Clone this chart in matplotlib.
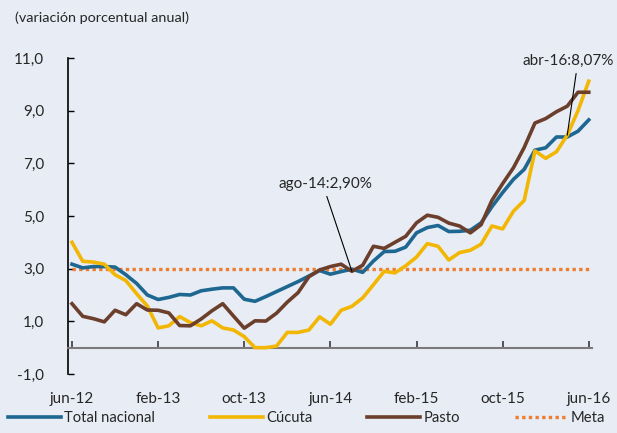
import matplotlib
matplotlib.use("Agg")
import matplotlib.pyplot as plt
from matplotlib.lines import Line2D

plt.rcParams['font.family'] = ['Lato', 'DejaVu Sans']

# ---- data ----
month_abbr = ['jun', 'jul', 'ago', 'sep', 'oct', 'nov', 'dic', 'ene', 'feb', 'mar', 'abr', 'may']
months = [f"{month_abbr[k % 12]}-{12 + (k + 5) // 12}" for k in range(49)]  # jun-12 .. jun-16

total_nacional = [3.17, 3.03, 3.08, 3.08, 3.06, 2.77, 2.44, 2.00, 1.83, 1.91, 2.02, 2.00,
                  2.16, 2.22, 2.27, 2.27, 1.84, 1.76, 1.94, 2.13, 2.32, 2.51, 2.72, 2.93,
                  2.79, 2.89, 2.98, 2.86, 3.29, 3.65, 3.66, 3.82, 4.36, 4.56, 4.64, 4.41,
                  4.42, 4.46, 4.74, 5.35, 5.89, 6.39, 6.77, 7.50, 7.59, 8.00, 8.00, 8.22, 8.65]
cucuta = [4.00, 3.28, 3.25, 3.17, 2.77, 2.55, 2.05, 1.58, 0.75, 0.83, 1.18, 0.95,
          0.83, 1.02, 0.75, 0.67, 0.42, 0.00, 0.00, 0.06, 0.58, 0.58, 0.67, 1.17,
          0.89, 1.42, 1.57, 1.89, 2.39, 2.90, 2.84, 3.11, 3.44, 3.95, 3.85, 3.33,
          3.61, 3.70, 3.93, 4.62, 4.51, 5.18, 5.59, 7.47, 7.19, 7.44, 8.07, 9.00, 10.12]
pasto = [1.67, 1.19, 1.10, 0.98, 1.42, 1.25, 1.67, 1.43, 1.42, 1.32, 0.84, 0.83,
         1.09, 1.40, 1.67, 1.20, 0.74, 1.02, 1.01, 1.31, 1.73, 2.09, 2.69, 2.95,
         3.08, 3.17, 2.90, 3.13, 3.85, 3.77, 4.00, 4.23, 4.74, 5.03, 4.95, 4.73,
         4.62, 4.36, 4.67, 5.59, 6.23, 6.83, 7.60, 8.53, 8.70, 8.96, 9.17, 9.70, 9.70]
meta = [3.0] * 49

series_names = ['Total nacional', 'Cúcuta', 'Pasto', 'Meta']
tick_idx = [0, 8, 16, 24, 32, 40, 48]
tick_labels = [months[i] for i in tick_idx]
yticks = [-1.0, 1.0, 3.0, 5.0, 7.0, 9.0, 11.0]
ann1 = ('ago-14', 'Pasto')
ann2 = ('abr-16', 'Cúcuta')

# ---- style ----
bg = '#e8ecf4'
c_total = '#1d6791'
c_cuc = '#f2b705'
c_pasto = '#6b3f2c'
c_meta = '#ed7d31'
txt = '#262626'

fig = plt.figure(figsize=(6.17, 4.33), dpi=100, facecolor=bg)
ax = fig.add_axes([68/617, 59/433, 524/617, 316/433])
ax.set_facecolor(bg)

x = list(range(len(months)))
lw = 2.6
ax.plot(x, meta, color=c_meta, lw=2.4, linestyle=(0, (1.0, 1.0)), zorder=2)
ax.plot(x, total_nacional, color=c_total, lw=lw, zorder=3)
ax.plot(x, cucuta, color=c_cuc, lw=lw, zorder=3)
ax.plot(x, pasto, color=c_pasto, lw=lw, zorder=4)

ax.set_xlim(-0.37, 48.3)
ax.set_ylim(-1.0, 11.0)

# spines
for s in ['top', 'right']:
    ax.spines[s].set_visible(False)
ax.spines['left'].set_color('black')
ax.spines['left'].set_linewidth(1.2)
ax.spines['bottom'].set_position(('data', 0))
ax.spines['bottom'].set_color('#7a7a7a')
ax.spines['bottom'].set_linewidth(1.5)

ax.set_yticks(yticks)
ax.set_yticklabels([f"{v:.1f}".replace('.', ',') for v in yticks])
ax.tick_params(axis='y', direction='in', length=4, width=1, color='black',
               labelsize=11, labelcolor=txt, pad=17)
ax.set_xticks(tick_idx)
ax.tick_params(axis='x', direction='in', length=5, width=1.2, color='#3a3a3a',
               labelbottom=False)

sec = ax.secondary_xaxis(0)
sec.set_xticks(tick_idx)
sec.set_xticklabels(tick_labels)
sec.spines['bottom'].set_visible(False)
sec.tick_params(axis='x', length=0, labelsize=11, labelcolor=txt, pad=13)

# annotations
i1 = months.index(ann1[0])
ax.annotate(f"{ann1[0]}:{pasto[i1]:.2f}%".replace('.', ','), xy=(i1, pasto[i1]),
            xytext=(23.5, 5.95), textcoords='data', ha='center', va='bottom',
            fontsize=11, color=txt,
            arrowprops=dict(arrowstyle='-', color='black', lw=0.8,
                            shrinkA=2, shrinkB=0, relpos=(0.5, 0)),
            annotation_clip=False, zorder=6)
i2 = months.index(ann2[0])
ax.annotate(f"{ann2[0]}:{cucuta[i2]:.2f}%".replace('.', ','), xy=(i2, cucuta[i2]),
            xytext=(46.05, 10.62), textcoords='data', ha='center', va='bottom',
            fontsize=11, color=txt,
            arrowprops=dict(arrowstyle='-', color='black', lw=0.8,
                            shrinkA=2, shrinkB=0, relpos=(0.6, 0)),
            annotation_clip=False, zorder=6)

fig.text(15/617, 1 - 18/433, '(variación porcentual anual)', ha='left', va='center',
         fontsize=10.4, color=txt)

handles = [Line2D([], [], color=c_total, lw=lw),
           Line2D([], [], color=c_cuc, lw=lw),
           Line2D([], [], color=c_pasto, lw=lw),
           Line2D([], [], color=c_meta, lw=2.4, linestyle=(0, (1.0, 1.0)))]
leg = fig.legend(handles, series_names, loc='lower center', bbox_to_anchor=(0.497, -0.012),
                 ncol=4, frameon=False, handlelength=3.6, handletextpad=0.2,
                 columnspacing=3.75, fontsize=10.6)
for t in leg.get_texts():
    t.set_color(txt)

fig.savefig('out.png', dpi=100, facecolor=bg)
